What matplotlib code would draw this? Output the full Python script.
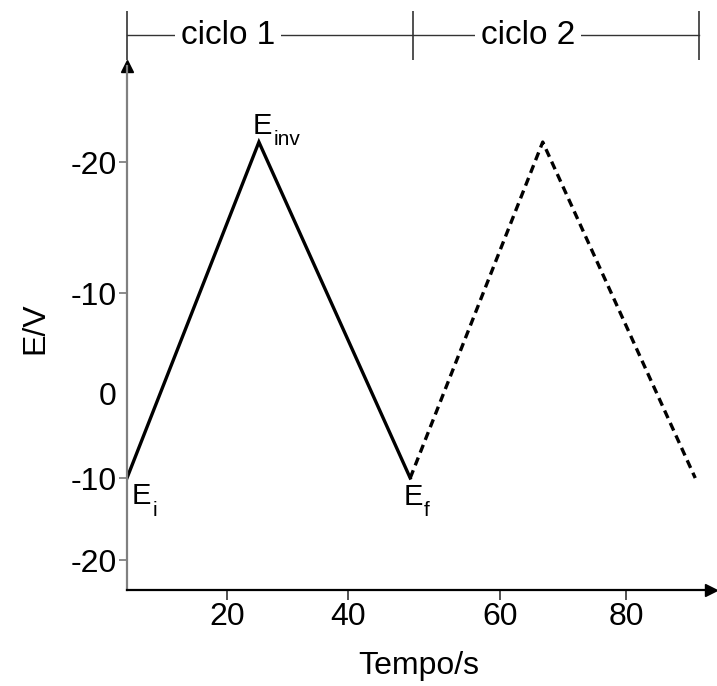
import matplotlib.pyplot as plt

plt.rcParams['font.family'] = ['Liberation Sans', 'DejaVu Sans']

# vertices of the triangular potential sweep
time_s = [3.5, 25.3, 50.3, 72.2, 97.4]
potential = [-8.5, 25.1, -8.5, 25.1, -8.5]
vertex_subscripts = ['i', 'inv', 'f']

# the axis of the original is not evenly spaced, keep its tick places
xtick_pos = [20, 40, 65.1, 86]
xtick_labels = ['20', '40', '60', '80']
ytick_pos = [23.1, 10, 0, -8.5, -16.7]
ytick_labels = ['-20', '-10', '0', '-10', '-20']

cycle_edges = [3.5, 50.7, 98.0]
cycle_names = ['ciclo 1', 'ciclo 2']
cycle_label_pos = [20.2, 69.8]

fig = plt.figure(figsize=(7.17, 6.86), dpi=100)
ax = fig.add_axes([0.1771, 0.1399, 0.8145, 0.7638])

# cycle 1 solid, cycle 2 dashed
ax.plot(time_s[:3], potential[:3], color='black', lw=2.4, solid_joinstyle='miter')
ax.plot(time_s[2:], potential[2:], color='black', lw=2.4, linestyle=(0, (2.5, 1.6)))

# E with its subscript, offsets in points from the vertex
offsets = [(3.6, -19), (-4.3, 5.8), (-5, -19.5)]
for i, sub in enumerate(vertex_subscripts):
    dx, dy = offsets[i]
    ax.annotate('E', (time_s[i], potential[i]), xytext=(dx, dy),
                textcoords='offset points', ha='left', va='baseline',
                fontsize=21, annotation_clip=False)
    ax.annotate(sub, (time_s[i], potential[i]), xytext=(dx + 15, dy - 8),
                textcoords='offset points', ha='left', va='baseline',
                fontsize=15, annotation_clip=False)

ax.set_xlim(3.5, 100.0)
ax.set_ylim(-19.7, 32.7)
ax.set_xticks(xtick_pos, xtick_labels)
ax.set_yticks(ytick_pos, ytick_labels)
ax.tick_params(axis='x', length=7, width=1.2, pad=1.5, labelsize=23, color='#333333')
ax.tick_params(axis='y', length=6, width=1.2, pad=1.5, labelsize=23, color='#777777')
ax.yaxis.get_major_ticks()[2].tick1line.set_visible(False)

ax.spines['top'].set_visible(False)
ax.spines['right'].set_visible(False)
ax.spines['left'].set_color('#808080')
ax.spines['left'].set_linewidth(1.6)
ax.spines['bottom'].set_color('black')
ax.spines['bottom'].set_linewidth(1.6)

# arrow heads at the axis ends
ax.plot(1, ax.get_ylim()[0], '>', color='black', ms=9, transform=ax.get_yaxis_transform(), clip_on=False)
ax.plot(ax.get_xlim()[0], 1, '^', color='black', ms=9, transform=ax.get_xaxis_transform(), clip_on=False)

ax.set_xlabel('Tempo/s', fontsize=23, labelpad=14)
ax.set_ylabel('E/V', fontsize=23, labelpad=14)

# bracket above the plot marking both cycles
ax.plot([cycle_edges[0], cycle_edges[-1]], [35.8, 35.8], color='#333333', lw=1, clip_on=False)
ax.vlines(cycle_edges, 33.3, 38.2, color='#333333', lw=1.2, clip_on=False)
for name, xpos in zip(cycle_names, cycle_label_pos):
    ax.text(xpos, 35.8, name, fontsize=24, ha='center', va='center', clip_on=False,
            bbox=dict(facecolor='white', edgecolor='none', pad=4), zorder=5)

fig.savefig('out.png', dpi=100)
